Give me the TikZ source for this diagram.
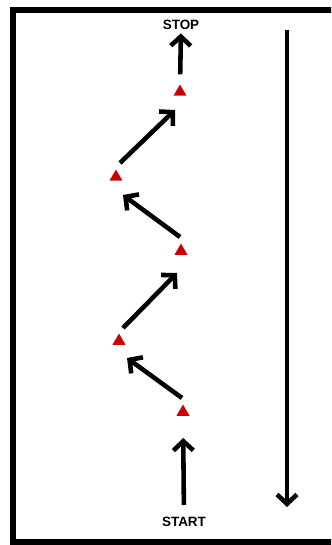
\documentclass[tikz,border=0pt]{standalone}
\usepackage{fontspec}
\setsansfont{Liberation Sans}
\usetikzlibrary{arrows.meta,shapes.geometric}

\begin{document}
\begin{tikzpicture}[
    x=0.03cm, y=-0.03cm,
    cone/.style={regular polygon, regular polygon sides=3, fill=red!80!black, inner sep=0pt, minimum size=0.45cm},
    move/.style={line width=3.9pt, -{Straight Barb[length=8pt,width=17pt]}},
    mark label/.style={font=\sffamily\bfseries\fontsize{11.5}{12}\selectfont, inner sep=0pt}
]
\useasboundingbox (0,0) rectangle (331,545);
\clip (0,0) rectangle (331,545);

% field
\draw[line width=4.3pt] (13,10) rectangle (345,542);

% cones
\node[cone] (c1) at (180,92) {};
\node[cone] (c2) at (116,177) {};
\node[cone] (c3) at (181,251) {};
\node[cone] (c4) at (119,341) {};
\node[cone] (c5) at (183,412) {};

\node[mark label] (stop) at (181,25) {STOP};
\node[mark label] (start) at (184,522) {START};

% path
\draw[move, shorten <=0.36cm, shorten >=0.66cm] (start.north) -- (c5.south);
\draw[move] ([shift={(-1,-14)}]c5.center) -- ([shift={(8,17)}]c4.center);
\draw[move] ([shift={(4,-13)}]c4.center) -- ([shift={(-4,22)}]c3.center);
\draw[move] ([shift={(-1,-14)}]c3.center) -- ([shift={(7,18)}]c2.center);
\draw[move] ([shift={(4,-14)}]c2.center) -- ([shift={(-5,18)}]c1.center);
\draw[move, shorten <=0.29cm, shorten >=0.1cm] (c1.north) -- (stop.south);

% return
\coordinate (back top) at (287,30);
\coordinate (back end) at (287,507);
\draw[move] (back top) -- (back end);

\end{tikzpicture}
\end{document}
